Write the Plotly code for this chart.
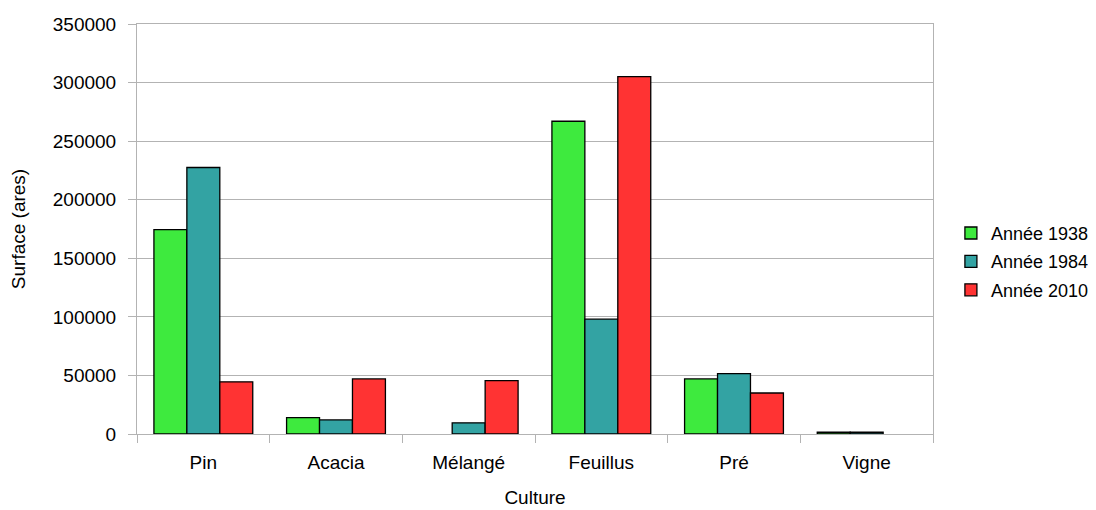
import plotly.graph_objects as go

categories = ["Pin", "Acacia", "Mélangé", "Feuillus", "Pré", "Vigne"]
annee_1938 = [174500, 14000, None, 267000, 47000, 1500]
annee_1984 = [227500, 12000, 9500, 98000, 51500, 1500]
annee_2010 = [44500, 47000, 45500, 305000, 35000, None]
series_names = ["Année 1938", "Année 1984", "Année 2010"]
colors = ["#3eea3e", "#33a3a3", "#ff3333"]

fig = go.Figure()
for i, (name, vals, col) in enumerate(zip(series_names, [annee_1938, annee_1984, annee_2010], colors)):
    fig.add_trace(go.Bar(
        x=categories, y=vals, name=name, legendgroup=f"g{i}",
        marker=dict(color=col, line=dict(color="black", width=1.3)),
    ))

font_family = "Liberation Sans, Arial, sans-serif"
fig.update_layout(
    width=1096, height=510,
    margin=dict(l=129, r=171, t=16, b=84, autoexpand=False),
    paper_bgcolor="white", plot_bgcolor="white",
    barmode="group", bargap=0.255, bargroupgap=0,
    font=dict(family=font_family, size=18, color="black"),
    legend=dict(x=1.0225, y=0.42, xanchor="left", yanchor="middle",
                font=dict(size=18), tracegroupgap=2),
    showlegend=True,
)
fig.update_xaxes(
    automargin=False,
    title=dict(text="Culture", font=dict(size=19), standoff=18),
    showline=True, linecolor="#b3b3b3", linewidth=1, mirror=True,
    ticks="outside", ticklen=8, tickcolor="#b3b3b3", tickson="boundaries",
    showgrid=False, tickfont=dict(size=19), ticklabelstandoff=11,
)
fig.update_yaxes(
    automargin=False,
    title=dict(text="Surface (ares)", font=dict(size=19), standoff=22),
    range=[0, 350000], dtick=50000, tickformat="d",
    showline=True, linecolor="#b3b3b3", linewidth=1, mirror=True,
    ticks="outside", ticklen=8, tickcolor="#b3b3b3",
    showgrid=True, gridcolor="#b3b3b3", gridwidth=1,
    zeroline=False, tickfont=dict(size=19), ticklabelstandoff=8,
)

fig.write_html("out.html")
